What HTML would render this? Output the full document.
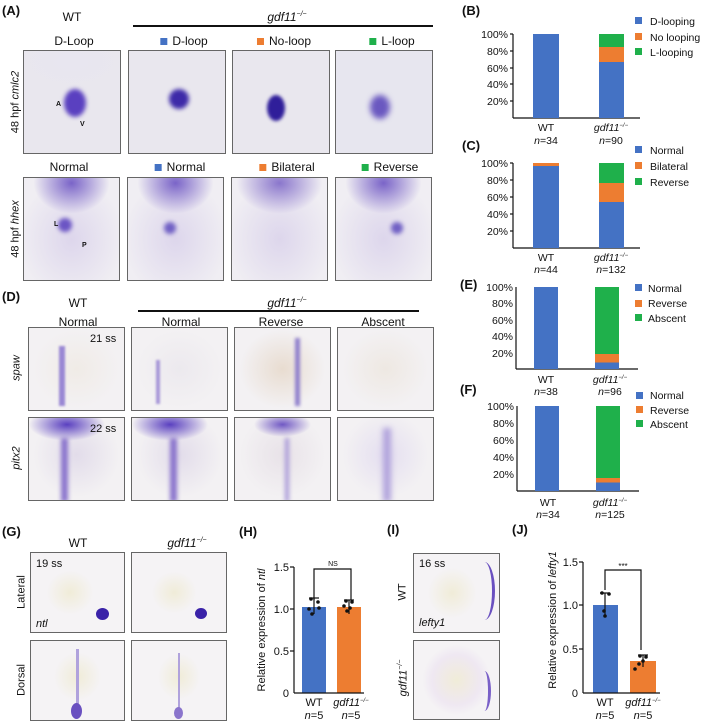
<!DOCTYPE html>
<html><head><meta charset="utf-8"><style>
body{margin:0;width:709px;height:725px;background:#fff;position:relative;overflow:hidden;font-family:"Liberation Sans",sans-serif;color:#111}
.t{position:absolute;white-space:nowrap;font-size:12px;line-height:1}
.c{transform:translateX(-50%)}
.pl{font-weight:bold;font-size:13px}
.im{position:absolute;border:1px solid #666;box-sizing:border-box;overflow:hidden;background:#f1eef2}
.b{position:absolute;border-radius:50%}
.sq{display:inline-block;width:7px;height:7px;margin-right:5px;vertical-align:0}
i{font-style:italic}
.rot{transform:translate(-50%,-50%) rotate(-90deg);transform-origin:center}
</style></head><body>

<div class="t pl" style="left:2px;top:4px">(A)</div>
<div class="t c" style="left:72px;top:11px">WT</div>
<div class="t c" style="left:287px;top:11px"><i>gdf11<sup style="font-size:7px">−/−</sup></i></div>
<div style="position:absolute;left:133px;top:25px;width:300px;height:1.5px;background:#111"></div>
<div class="t c" style="left:74px;top:35px">D-Loop</div>
<div class="t c" style="left:184px;top:35px"><span class="sq" style="background:#4472c4"></span>D-loop</div>
<div class="t c" style="left:284px;top:35px"><span class="sq" style="background:#ed7d31"></span>No-loop</div>
<div class="t c" style="left:392px;top:35px"><span class="sq" style="background:#1fb04b"></span>L-loop</div>

<div class="im" style="left:23px;top:50px;width:98px;height:104px;background:radial-gradient(ellipse 60% 30% at 50% 10%,#e8e6f0,transparent),#e9e7ee"><div class="b" style="left:40px;top:38px;width:22px;height:28px;background:#5a40c0;filter:blur(2px)"></div><span class="t" style="left:32px;top:50px;font-size:7px;font-weight:bold">A</span><span class="t" style="left:56px;top:70px;font-size:7px;font-weight:bold">V</span></div>
<div class="im" style="left:128px;top:50px;width:98px;height:104px;background:#e9e7ee"><div class="b" style="left:40px;top:38px;width:20px;height:20px;background:#3d2aa8;filter:blur(2px)"></div></div>
<div class="im" style="left:232px;top:50px;width:98px;height:104px;background:#e9e7ee"><div class="b" style="left:34px;top:44px;width:18px;height:26px;background:#2f1e9a;filter:blur(1.5px)"></div></div>
<div class="im" style="left:335px;top:50px;width:98px;height:104px;background:#e7e6ef"><div class="b" style="left:34px;top:44px;width:20px;height:24px;background:#6a58c0;filter:blur(3px)"></div></div>

<div class="t c" style="left:69px;top:161px">Normal</div>
<div class="t c" style="left:180px;top:161px"><span class="sq" style="background:#4472c4"></span>Normal</div>
<div class="t c" style="left:287px;top:161px"><span class="sq" style="background:#ed7d31"></span>Bilateral</div>
<div class="t c" style="left:390px;top:161px"><span class="sq" style="background:#1fb04b"></span>Reverse</div>
<div class="t rot" style="left:16px;top:102px;font-size:11px">48 hpf <i>cmlc2</i></div>
<div class="t rot" style="left:16px;top:229px;font-size:11px">48 hpf <i>hhex</i></div>

<div class="im" style="left:23px;top:177px;width:97px;height:104px;background:radial-gradient(ellipse 40% 30% at 50% 5%,#7a64c8,transparent),radial-gradient(ellipse 55% 60% at 50% 60%,#ddd6ec,#f0eef3)"><div class="b" style="left:34px;top:40px;width:14px;height:14px;background:#6b55c4;filter:blur(2px)"></div><span class="t" style="left:30px;top:43px;font-size:7px;font-weight:bold">L</span><span class="t" style="left:58px;top:64px;font-size:7px;font-weight:bold">P</span></div>
<div class="im" style="left:127px;top:177px;width:97px;height:104px;background:radial-gradient(ellipse 40% 30% at 50% 5%,#7a64c8,transparent),radial-gradient(ellipse 55% 60% at 50% 60%,#ddd6ec,#f0eef3)"><div class="b" style="left:36px;top:44px;width:12px;height:12px;background:#7060c4;filter:blur(2px)"></div></div>
<div class="im" style="left:231px;top:177px;width:97px;height:104px;background:radial-gradient(ellipse 45% 30% at 50% 5%,#8a76cc,transparent),radial-gradient(ellipse 55% 60% at 50% 60%,#ddd6ec,#f0eef3)"></div>
<div class="im" style="left:335px;top:177px;width:97px;height:104px;background:radial-gradient(ellipse 40% 30% at 50% 5%,#7a64c8,transparent),radial-gradient(ellipse 55% 60% at 50% 60%,#ddd6ec,#f0eef3)"><div class="b" style="left:55px;top:44px;width:12px;height:12px;background:#7060c4;filter:blur(2px)"></div></div>

<div class="t pl" style="left:2px;top:290px">(D)</div>
<div class="t c" style="left:78px;top:297px">WT</div>
<div class="t c" style="left:287px;top:297px"><i>gdf11<sup style="font-size:7px">−/−</sup></i></div>
<div style="position:absolute;left:138px;top:310px;width:281px;height:1.5px;background:#111"></div>
<div class="t c" style="left:78px;top:316px">Normal</div>
<div class="t c" style="left:181px;top:316px">Normal</div>
<div class="t c" style="left:281px;top:316px">Reverse</div>
<div class="t c" style="left:383px;top:316px">Abscent</div>
<div class="t rot" style="left:17px;top:368px;font-size:11px"><i>spaw</i></div>
<div class="t rot" style="left:17px;top:458px;font-size:11px"><i>pitx2</i></div>

<div class="im" style="left:28px;top:327px;width:97px;height:84px;background:radial-gradient(ellipse 45% 48% at 50% 50%,#f0ebe6,#f3f1f3)"><div style="position:absolute;left:30px;top:18px;width:6px;height:60px;background:#9a88d4;filter:blur(1px)"></div><span class="t" style="left:61px;top:6px;font-size:11px">21 ss</span></div>
<div class="im" style="left:131px;top:327px;width:97px;height:84px;background:radial-gradient(ellipse 45% 48% at 50% 50%,#ece9ee,#f3f1f3)"><div style="position:absolute;left:24px;top:32px;width:4px;height:44px;background:#a898d8;filter:blur(1px)"></div></div>
<div class="im" style="left:234px;top:327px;width:97px;height:84px;background:radial-gradient(ellipse 45% 48% at 50% 50%,#e8dcd0,#f3f1f3)"><div style="position:absolute;left:60px;top:10px;width:5px;height:68px;background:#9080cc;filter:blur(1.5px)"></div></div>
<div class="im" style="left:337px;top:327px;width:97px;height:84px;background:radial-gradient(ellipse 45% 48% at 50% 50%,#eee8e2,#f3f1f3)"></div>

<div class="im" style="left:28px;top:417px;width:97px;height:84px;background:radial-gradient(ellipse 40% 20% at 40% 8%,#5a40c0,transparent),radial-gradient(ellipse 45% 52% at 50% 45%,#e2dcea,#f3f1f3)"><div style="position:absolute;left:32px;top:20px;width:7px;height:64px;background:#8a74cc;filter:blur(2px)"></div><span class="t" style="left:61px;top:6px;font-size:11px">22 ss</span></div>
<div class="im" style="left:131px;top:417px;width:97px;height:84px;background:radial-gradient(ellipse 40% 20% at 40% 8%,#5a40c0,transparent),radial-gradient(ellipse 45% 52% at 50% 45%,#e2dcea,#f3f1f3)"><div style="position:absolute;left:38px;top:20px;width:7px;height:64px;background:#8a74cc;filter:blur(2px)"></div></div>
<div class="im" style="left:234px;top:417px;width:97px;height:84px;background:radial-gradient(ellipse 30% 15% at 50% 8%,#7058c4,transparent),radial-gradient(ellipse 45% 52% at 50% 45%,#e8e2e8,#f3f1f3)"><div style="position:absolute;left:50px;top:20px;width:4px;height:64px;background:#a898d8;filter:blur(2px)"></div></div>
<div class="im" style="left:337px;top:417px;width:97px;height:84px;background:radial-gradient(ellipse 45% 52% at 50% 45%,#e4def0,#f3f1f3)"><div style="position:absolute;left:45px;top:10px;width:8px;height:74px;background:#b0a2dc;filter:blur(3px)"></div></div>

<div class="t pl" style="left:2px;top:525px">(G)</div>
<div class="t c" style="left:78px;top:537px">WT</div>
<div class="t c" style="left:187px;top:537px"><i>gdf11<sup style="font-size:7px">−/−</sup></i></div>
<div class="t rot" style="left:22px;top:592px;font-size:11px">Lateral</div>
<div class="t rot" style="left:22px;top:680px;font-size:11px">Dorsal</div>
<div class="im" style="left:30px;top:552px;width:95px;height:81px;background:radial-gradient(ellipse 36% 40% at 42% 50%,#f0ecd8,#f5f3f5 70%)"><div class="b" style="left:65px;top:55px;width:13px;height:12px;background:#3a22a8"></div><span class="t" style="left:5px;top:6px;font-size:11px">19 ss</span><span class="t" style="left:5px;top:66px;font-size:11px"><i>ntl</i></span></div>
<div class="im" style="left:131px;top:552px;width:96px;height:81px;background:radial-gradient(ellipse 34% 38% at 45% 50%,#f0ecd8,#f5f3f5 70%)"><div class="b" style="left:63px;top:55px;width:12px;height:11px;background:#3a22a8"></div></div>
<div class="im" style="left:30px;top:640px;width:95px;height:81px;background:radial-gradient(ellipse 36% 44% at 50% 45%,#f0ecd8,#f5f3f5 70%)"><div style="position:absolute;left:45px;top:8px;width:3px;height:64px;background:#b0a2dc"></div><div class="b" style="left:40px;top:62px;width:11px;height:16px;background:#6a50c0"></div></div>
<div class="im" style="left:131px;top:640px;width:96px;height:81px;background:radial-gradient(ellipse 32% 42% at 50% 45%,#f0ecd8,#f5f3f5 70%)"><div style="position:absolute;left:46px;top:12px;width:2px;height:58px;background:#b0a2dc"></div><div class="b" style="left:42px;top:66px;width:9px;height:12px;background:#8a74cc"></div></div>

<div class="t pl" style="left:239px;top:525px">(H)</div>
<div class="t pl" style="left:387px;top:523px">(I)</div>
<div class="t pl" style="left:512px;top:523px">(J)</div>
<div class="t rot" style="left:403px;top:592px;font-size:11px">WT</div>
<div class="t rot" style="left:403px;top:678px;font-size:11px"><i>gdf11<sup style="font-size:7px">−/−</sup></i></div>
<div class="im" style="left:413px;top:553px;width:87px;height:80px;background:radial-gradient(ellipse 40% 45% at 45% 50%,#f0ecd8,#f5f3f5 72%)"><div style="position:absolute;left:60px;top:8px;width:18px;height:58px;border-right:3px solid #6a50c0;border-radius:0 50% 50% 0"></div><span class="t" style="left:5px;top:5px;font-size:11px">16 ss</span><span class="t" style="left:5px;top:64px;font-size:11px"><i>lefty1</i></span></div>
<div class="im" style="left:413px;top:640px;width:87px;height:80px;background:radial-gradient(ellipse 40% 45% at 50% 50%,#f0ecd8,#efe8f2 72%,#f5f3f5)"><div style="position:absolute;left:64px;top:30px;width:10px;height:40px;border-right:3px solid #7a60c8;border-radius:0 50% 50% 0"></div></div>

<svg width="709" height="725" style="position:absolute;left:0;top:0" font-family="Liberation Sans, sans-serif" font-size="11">
<g font-size="10.5" fill="#111">
<!-- B -->
<text x="462" y="15" font-weight="bold" font-size="13">(B)</text>
<g stroke="#111" stroke-width="1.2"><line x1="513" y1="34" x2="513" y2="118"/><line x1="513" y1="118" x2="640" y2="118"/>
<line x1="510" y1="34" x2="513" y2="34"/><line x1="510" y1="51" x2="513" y2="51"/><line x1="510" y1="68" x2="513" y2="68"/><line x1="510" y1="84" x2="513" y2="84"/><line x1="510" y1="101" x2="513" y2="101"/></g>
<g text-anchor="end"><text x="508" y="38">100%</text><text x="508" y="55">80%</text><text x="508" y="72">60%</text><text x="508" y="88">40%</text><text x="508" y="105">20%</text></g>
<rect x="533" y="34" width="26" height="84" fill="#4472c4"/>
<rect x="599" y="62" width="25" height="56" fill="#4472c4"/><rect x="599" y="47" width="25" height="15" fill="#ed7d31"/><rect x="599" y="34" width="25" height="13" fill="#1fb04b"/>
<text x="546" y="131" text-anchor="middle">WT</text><text x="546" y="144" text-anchor="middle"><tspan font-style="italic">n</tspan>=34</text>
<text x="611" y="131" text-anchor="middle" font-style="italic">gdf11<tspan font-size="6" dy="-4">−/−</tspan></text><text x="611" y="144" text-anchor="middle"><tspan font-style="italic">n</tspan>=90</text>
<rect x="635" y="17" width="7" height="7" fill="#4472c4"/><text x="650" y="25">D-looping</text>
<rect x="635" y="33" width="7" height="7" fill="#ed7d31"/><text x="650" y="41">No looping</text>
<rect x="635" y="48" width="7" height="7" fill="#1fb04b"/><text x="650" y="56">L-looping</text>
<!-- C -->
<text x="462" y="150" font-weight="bold" font-size="13">(C)</text>
<g stroke="#111" stroke-width="1.2"><line x1="513" y1="163" x2="513" y2="248"/><line x1="513" y1="248" x2="640" y2="248"/>
<line x1="510" y1="163" x2="513" y2="163"/><line x1="510" y1="180" x2="513" y2="180"/><line x1="510" y1="197" x2="513" y2="197"/><line x1="510" y1="214" x2="513" y2="214"/><line x1="510" y1="231" x2="513" y2="231"/></g>
<g text-anchor="end"><text x="508" y="167">100%</text><text x="508" y="184">80%</text><text x="508" y="201">60%</text><text x="508" y="218">40%</text><text x="508" y="235">20%</text></g>
<rect x="533" y="166" width="26" height="82" fill="#4472c4"/><rect x="533" y="163" width="26" height="3" fill="#ed7d31"/>
<rect x="599" y="202" width="25" height="46" fill="#4472c4"/><rect x="599" y="183" width="25" height="19" fill="#ed7d31"/><rect x="599" y="163" width="25" height="20" fill="#1fb04b"/>
<text x="546" y="261" text-anchor="middle">WT</text><text x="546" y="273" text-anchor="middle"><tspan font-style="italic">n</tspan>=44</text>
<text x="611" y="261" text-anchor="middle" font-style="italic">gdf11<tspan font-size="6" dy="-4">−/−</tspan></text><text x="611" y="273" text-anchor="middle"><tspan font-style="italic">n</tspan>=132</text>
<rect x="635" y="146" width="7" height="7" fill="#4472c4"/><text x="650" y="154">Normal</text>
<rect x="635" y="162" width="7" height="7" fill="#ed7d31"/><text x="650" y="170">Bilateral</text>
<rect x="635" y="178" width="7" height="7" fill="#1fb04b"/><text x="650" y="186">Reverse</text>
<!-- E -->
<text x="460" y="289" font-weight="bold" font-size="13">(E)</text>
<g stroke="#111" stroke-width="1.2"><line x1="516" y1="287" x2="516" y2="369"/><line x1="516" y1="369" x2="638" y2="369"/></g>
<g text-anchor="end"><text x="513" y="291">100%</text><text x="513" y="307">80%</text><text x="513" y="324">60%</text><text x="513" y="340">40%</text><text x="513" y="357">20%</text></g>
<rect x="534" y="287" width="24" height="82" fill="#4472c4"/>
<rect x="595" y="362.5" width="24" height="6.5" fill="#4472c4"/><rect x="595" y="354" width="24" height="8.5" fill="#ed7d31"/><rect x="595" y="287" width="24" height="67" fill="#1fb04b"/>
<text x="546" y="383" text-anchor="middle">WT</text><text x="546" y="395" text-anchor="middle"><tspan font-style="italic">n</tspan>=38</text>
<text x="610" y="383" text-anchor="middle" font-style="italic">gdf11<tspan font-size="6" dy="-4">−/−</tspan></text><text x="610" y="395" text-anchor="middle"><tspan font-style="italic">n</tspan>=96</text>
<rect x="635" y="284" width="7" height="7" fill="#4472c4"/><text x="648" y="292">Normal</text>
<rect x="635" y="300" width="7" height="7" fill="#ed7d31"/><text x="648" y="307">Reverse</text>
<rect x="635" y="314" width="7" height="7" fill="#1fb04b"/><text x="648" y="322">Abscent</text>
<!-- F -->
<text x="460" y="394" font-weight="bold" font-size="13">(F)</text>
<g stroke="#111" stroke-width="1.2"><line x1="517" y1="406" x2="517" y2="491"/><line x1="517" y1="491" x2="639" y2="491"/></g>
<g text-anchor="end"><text x="514" y="410">100%</text><text x="514" y="427">80%</text><text x="514" y="444">60%</text><text x="514" y="461">40%</text><text x="514" y="478">20%</text></g>
<rect x="535" y="406" width="24" height="85" fill="#4472c4"/>
<rect x="596" y="482.5" width="24" height="8.5" fill="#4472c4"/><rect x="596" y="478" width="24" height="4.5" fill="#ed7d31"/><rect x="596" y="406" width="24" height="72" fill="#1fb04b"/>
<text x="548" y="506" text-anchor="middle">WT</text><text x="548" y="518" text-anchor="middle"><tspan font-style="italic">n</tspan>=34</text>
<text x="610" y="506" text-anchor="middle" font-style="italic">gdf11<tspan font-size="6" dy="-4">−/−</tspan></text><text x="610" y="518" text-anchor="middle"><tspan font-style="italic">n</tspan>=125</text>
<rect x="636" y="392" width="7" height="7" fill="#4472c4"/><text x="650" y="399">Normal</text>
<rect x="636" y="406" width="7" height="7" fill="#ed7d31"/><text x="650" y="414">Reverse</text>
<rect x="636" y="420" width="7" height="7" fill="#1fb04b"/><text x="650" y="428">Abscent</text>
</g>
<!-- H -->
<g fill="#111">
<rect x="302" y="607" width="24" height="86" fill="#4472c4"/><rect x="337" y="607" width="24" height="86" fill="#ed7d31"/>
<g stroke="#111" stroke-width="1.2" fill="none"><line x1="294" y1="567" x2="294" y2="693"/><line x1="294" y1="693" x2="364" y2="693"/>
<line x1="290" y1="567" x2="294" y2="567"/><line x1="290" y1="609" x2="294" y2="609"/><line x1="290" y1="651" x2="294" y2="651"/>
<polyline points="314,600 314,569 351,569 351,600"/>
<line x1="314" y1="598" x2="314" y2="614"/><line x1="309" y1="598" x2="319" y2="598"/><line x1="349" y1="600" x2="349" y2="614"/><line x1="344" y1="600" x2="354" y2="600"/></g>
<circle cx="311" cy="599" r="1.8"/><circle cx="318" cy="602" r="1.8"/><circle cx="309" cy="609" r="1.8"/><circle cx="319" cy="608" r="1.8"/><circle cx="312" cy="614" r="1.8"/>
<circle cx="346" cy="601" r="1.8"/><circle cx="352" cy="602" r="1.8"/><circle cx="344" cy="606" r="1.8"/><circle cx="350" cy="608" r="1.8"/><circle cx="347" cy="611" r="1.8"/>
<g text-anchor="end" font-size="11"><text x="289" y="571">1.5</text><text x="289" y="613">1.0</text><text x="289" y="655">0.5</text><text x="289" y="697">0</text></g>
<text x="333" y="566" text-anchor="middle" font-size="7">NS</text>
<text x="314" y="706" text-anchor="middle">WT</text><text x="314" y="719" text-anchor="middle"><tspan font-style="italic">n</tspan>=5</text>
<text x="351" y="706" text-anchor="middle" font-style="italic">gdf11<tspan font-size="6" dy="-4">−/−</tspan></text><text x="351" y="719" text-anchor="middle"><tspan font-style="italic">n</tspan>=5</text>
<text transform="translate(265,630) rotate(-90)" text-anchor="middle" font-size="11">Relative expression of <tspan font-style="italic">ntl</tspan></text>
<!-- J -->
<rect x="593" y="605" width="25" height="88" fill="#4472c4"/><rect x="630" y="661" width="26" height="32" fill="#ed7d31"/>
<g stroke="#111" stroke-width="1.2" fill="none"><line x1="583" y1="562" x2="583" y2="693"/><line x1="583" y1="693" x2="660" y2="693"/>
<line x1="579" y1="562" x2="583" y2="562"/><line x1="579" y1="605" x2="583" y2="605"/><line x1="579" y1="649" x2="583" y2="649"/>
<polyline points="605,590 605,570 641,570 641,650"/>
<line x1="605" y1="593" x2="605" y2="617"/><line x1="600" y1="593" x2="610" y2="593"/><line x1="643" y1="655" x2="643" y2="667"/><line x1="638" y1="655" x2="648" y2="655"/></g>
<circle cx="602" cy="593" r="1.8"/><circle cx="609" cy="594" r="1.8"/><circle cx="604" cy="611" r="1.8"/><circle cx="605" cy="616" r="1.8"/>
<circle cx="640" cy="656" r="1.8"/><circle cx="646" cy="657" r="1.8"/><circle cx="643" cy="661" r="1.8"/><circle cx="639" cy="664" r="1.8"/><circle cx="635" cy="669" r="1.8"/>
<g text-anchor="end" font-size="11"><text x="578" y="566">1.5</text><text x="578" y="609">1.0</text><text x="578" y="653">0.5</text><text x="578" y="697">0</text></g>
<text x="623" y="569" text-anchor="middle" font-size="8">***</text>
<text x="605" y="706" text-anchor="middle">WT</text><text x="605" y="719" text-anchor="middle"><tspan font-style="italic">n</tspan>=5</text>
<text x="643" y="706" text-anchor="middle" font-style="italic">gdf11<tspan font-size="6" dy="-4">−/−</tspan></text><text x="643" y="719" text-anchor="middle"><tspan font-style="italic">n</tspan>=5</text>
<text transform="translate(556,620) rotate(-90)" text-anchor="middle" font-size="11">Relative expression of <tspan font-style="italic">lefty1</tspan></text>
</g>
</svg>
</body></html>
